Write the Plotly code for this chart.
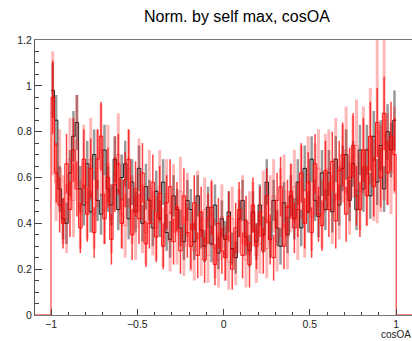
import numpy as np
import plotly.graph_objects as go

# bin edges: 100 bins from -1 to 1
edges = np.linspace(-1.0, 1.0, 101)
centers = (edges[:-1] + edges[1:]) / 2

black_vals = [
0.98,0.85,0.55,0.42,0.40,0.62,0.78,0.84,0.55,0.48,
0.66,0.45,0.70,0.50,0.44,0.72,0.55,0.48,0.68,0.46,
0.60,0.66,0.42,0.58,0.45,0.64,0.40,0.56,0.50,0.38,
0.54,0.42,0.58,0.36,0.33,0.52,0.46,0.38,0.32,0.50,
0.46,0.32,0.52,0.37,0.30,0.47,0.31,0.48,0.27,0.42,
0.33,0.45,0.29,0.25,0.42,0.50,0.34,0.28,0.45,0.32,
0.48,0.35,0.58,0.33,0.50,0.38,0.30,0.49,0.35,0.52,
0.42,0.58,0.38,0.64,0.45,0.68,0.50,0.43,0.62,0.46,
0.62,0.45,0.68,0.48,0.64,0.70,0.50,0.66,0.46,0.72,
0.55,0.72,0.52,0.78,0.58,0.74,0.55,0.80,0.72,0.85]
black_err = [
0.12,0.11,0.10,0.09,0.09,0.10,0.11,0.12,0.10,0.09,
0.10,0.09,0.11,0.09,0.09,0.11,0.10,0.09,0.10,0.09,
0.10,0.10,0.09,0.10,0.09,0.10,0.08,0.10,0.09,0.08,
0.09,0.08,0.10,0.08,0.08,0.09,0.09,0.08,0.08,0.09,
0.09,0.08,0.09,0.08,0.07,0.09,0.08,0.09,0.07,0.08,
0.08,0.09,0.07,0.07,0.08,0.09,0.08,0.07,0.09,0.08,
0.09,0.08,0.10,0.08,0.09,0.08,0.08,0.09,0.08,0.09,
0.09,0.10,0.08,0.10,0.09,0.10,0.09,0.09,0.10,0.09,
0.10,0.09,0.10,0.09,0.10,0.11,0.09,0.10,0.09,0.11,
0.10,0.11,0.10,0.11,0.10,0.11,0.10,0.12,0.12,0.13]

red_vals = [
0.95,0.62,0.48,0.40,0.66,0.46,0.72,0.55,0.38,0.68,
0.44,0.64,0.36,0.68,0.78,0.42,0.60,0.33,0.57,0.66,
0.40,0.59,0.68,0.35,0.55,0.42,0.62,0.31,0.40,0.58,
0.34,0.53,0.30,0.49,0.56,0.32,0.47,0.28,0.52,0.36,
0.30,0.49,0.26,0.45,0.24,0.42,0.47,0.22,0.40,0.28,
0.25,0.43,0.20,0.38,0.46,0.26,0.41,0.22,0.48,0.30,
0.45,0.28,0.52,0.33,0.25,0.50,0.56,0.30,0.47,0.54,
0.38,0.46,0.62,0.40,0.58,0.36,0.66,0.44,0.39,0.63,
0.46,0.67,0.41,0.63,0.70,0.44,0.60,0.74,0.52,0.46,
0.72,0.52,0.78,0.56,0.84,0.60,0.88,0.62,0.78,0.70]
red_err = [
0.16,0.13,0.12,0.11,0.13,0.12,0.14,0.12,0.11,0.13,
0.12,0.13,0.11,0.13,0.15,0.11,0.13,0.11,0.12,0.13,
0.11,0.12,0.13,0.11,0.12,0.11,0.13,0.10,0.11,0.12,
0.11,0.12,0.10,0.12,0.12,0.10,0.11,0.10,0.12,0.11,
0.10,0.12,0.10,0.11,0.10,0.11,0.12,0.09,0.11,0.10,
0.10,0.11,0.09,0.11,0.12,0.10,0.11,0.10,0.12,0.10,
0.11,0.10,0.12,0.11,0.10,0.12,0.13,0.10,0.12,0.12,
0.11,0.12,0.13,0.11,0.13,0.11,0.13,0.12,0.11,0.13,
0.12,0.13,0.12,0.13,0.14,0.12,0.13,0.14,0.13,0.12,
0.14,0.13,0.15,0.13,0.15,0.13,0.16,0.14,0.15,0.16]

pink_vals = [
0.88,0.58,0.64,0.46,0.42,0.68,0.50,0.76,0.44,0.66,
0.49,0.68,0.44,0.64,0.72,0.46,0.66,0.42,0.62,0.70,
0.44,0.39,0.64,0.46,0.38,0.61,0.42,0.36,0.56,0.40,
0.38,0.56,0.34,0.53,0.32,0.51,0.35,0.54,0.30,0.48,
0.32,0.28,0.48,0.30,0.46,0.26,0.44,0.29,0.24,0.43,
0.27,0.23,0.42,0.25,0.41,0.46,0.24,0.40,0.44,0.26,
0.31,0.48,0.29,0.46,0.52,0.32,0.49,0.54,0.34,0.51,
0.56,0.38,0.58,0.40,0.61,0.43,0.59,0.64,0.44,0.62,
0.64,0.46,0.68,0.49,0.66,0.72,0.51,0.69,0.74,0.54,
0.72,0.56,0.78,0.59,0.80,0.64,0.85,0.68,0.62,0.72]
pink_err = [
0.27,0.17,0.17,0.15,0.15,0.18,0.16,0.20,0.15,0.17,
0.16,0.18,0.15,0.17,0.20,0.15,0.17,0.15,0.16,0.18,
0.15,0.14,0.17,0.15,0.14,0.16,0.15,0.14,0.16,0.14,
0.14,0.16,0.13,0.15,0.13,0.15,0.13,0.15,0.13,0.14,
0.13,0.13,0.15,0.13,0.14,0.12,0.14,0.13,0.12,0.14,
0.12,0.12,0.14,0.12,0.14,0.15,0.12,0.14,0.14,0.12,
0.13,0.15,0.13,0.15,0.16,0.13,0.15,0.16,0.14,0.15,
0.16,0.14,0.16,0.15,0.17,0.15,0.16,0.17,0.15,0.17,
0.17,0.15,0.18,0.16,0.17,0.19,0.16,0.18,0.20,0.17,
0.19,0.17,0.21,0.18,0.40,0.19,0.35,0.20,0.18,0.19]

title = "Norm. by self max, cosOA"
xtitle = "cosOA"
x_ticks = [-1, -0.5, 0, 0.5, 1]
x_ticktext = ["\u22121", "\u22120.5", "0", "0.5", "1"]
y_ticks = [0, 0.2, 0.4, 0.6, 0.8, 1.0, 1.2]
y_ticktext = ["0", "0.2", "0.4", "0.6", "0.8", "1", "1.2"]

X0, X1 = -1.0927, 1.0916

fig = go.Figure()


def add_hist(vals, errs, line_color, err_color, err_w, line_w, with_outer=False):
    xs = list(edges[:-1]) + [edges[-1]]
    ys = list(vals) + [vals[-1]]
    if with_outer:
        xs = [X0, edges[0]] + list(edges[:-1]) + [edges[-1], X1]
        ys = [0, 0] + list(vals) + [0, 0]
    fig.add_trace(go.Scatter(
        x=centers, y=vals, mode="markers",
        marker=dict(size=1, color="rgba(0,0,0,0)"),
        error_y=dict(type="data", array=errs, thickness=err_w, width=0, color=err_color),
        hoverinfo="skip", showlegend=False, cliponaxis=True))
    fig.add_trace(go.Scatter(
        x=xs, y=ys, mode="lines", line=dict(color=line_color, width=line_w, shape="hv"),
        hoverinfo="skip", showlegend=False))


add_hist(black_vals, black_err, "rgba(0,0,0,0.85)", "rgba(0,0,0,0.4)", 2.5, 1)
add_hist(red_vals, red_err, "rgba(255,0,0,0.9)", "rgba(255,0,0,0.75)", 1.5, 1, with_outer=True)
add_hist(pink_vals, pink_err, "rgba(255,0,0,0.3)", "rgba(255,0,0,0.28)", 3, 1)

axis_font = dict(family="Liberation Sans, Arial, sans-serif", size=10.5, color="#222")

fig.update_layout(
    width=412, height=341,
    margin=dict(l=35, r=0, t=40, b=26),
    paper_bgcolor="white", plot_bgcolor="white",
    xaxis=dict(range=[X0, X1], showgrid=False, zeroline=False,
               tickvals=x_ticks, ticktext=x_ticktext, ticks="inside", ticklen=6,
               tickcolor="#444", showline=True, linecolor="#777", linewidth=1, mirror=True,
               tickfont=axis_font, ticklabelstandoff=-1,
               minor=dict(dtick=0.1, tick0=0, ticks="inside", ticklen=3, tickcolor="#444")),
    yaxis=dict(range=[0, 1.2], showgrid=False, zeroline=False,
               tickvals=y_ticks, ticktext=y_ticktext, ticks="inside", ticklen=7,
               tickcolor="#444", showline=True, linecolor="#555", linewidth=1,
               tickfont=axis_font,
               minor=dict(dtick=0.05, tick0=0, ticks="inside", ticklen=4, tickcolor="#444")),
    annotations=[
        dict(text=title, x=0.536, y=1 + (40 - 17) / 275, xref="paper", yref="paper",
             showarrow=False, yanchor="middle",
             font=dict(family="Liberation Sans, Arial, sans-serif", size=16, color="black")),
        dict(text=xtitle, x=1.0, y=-25.5 / 275, xref="paper", yref="paper", showarrow=False,
             xanchor="right", yanchor="bottom", borderpad=0,
             font=dict(family="Liberation Sans, Arial, sans-serif", size=10, color="#222")),
    ],
)

fig.write_html("out.html")
